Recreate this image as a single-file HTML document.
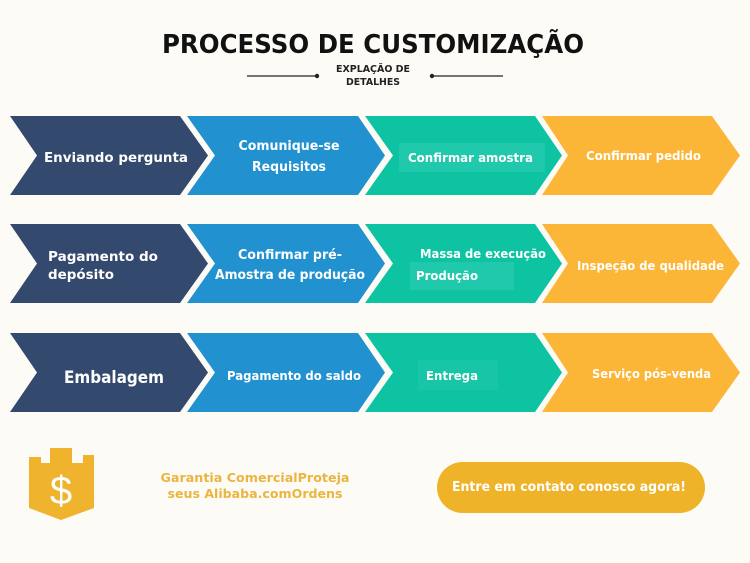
<!DOCTYPE html>
<html><head><meta charset="utf-8"><style>
html,body{margin:0;padding:0;background:#fdfbf6;}
svg{display:block;}
text{font-family:"DejaVu Sans","Liberation Sans",sans-serif;font-weight:bold;}
</style></head><body>
<svg width="750" height="563" viewBox="0 0 750 563" xmlns="http://www.w3.org/2000/svg">
<rect width="750" height="563" fill="#fdfbf6"/>
<text x="373" y="53" font-size="26" text-anchor="middle" fill="#111" textLength="422" lengthAdjust="spacingAndGlyphs">PROCESSO DE CUSTOMIZAÇÃO</text>
<line x1="247" y1="76" x2="317" y2="76" stroke="#222" stroke-width="1.2"/><circle cx="317" cy="76" r="2.2" fill="#222"/>
<line x1="432" y1="76" x2="503" y2="76" stroke="#222" stroke-width="1.2"/><circle cx="432" cy="76" r="2.2" fill="#222"/>
<text x="373" y="72" font-size="9.5" text-anchor="middle" fill="#222" textLength="74" lengthAdjust="spacingAndGlyphs">EXPLAÇÃO DE</text>
<text x="373" y="85" font-size="9.5" text-anchor="middle" fill="#222" textLength="54" lengthAdjust="spacingAndGlyphs">DETALHES</text>

<g id="r1">
<polygon points="10,116 180,116 208,155.5 180,195 10,195 37,155.5" fill="#34496e"/>
<polygon points="187,116 358,116 385,155.5 358,195 187,195 215,155.5" fill="#2191d0"/>
<polygon points="365,116 535,116 562,155.5 535,195 365,195 393,155.5" fill="#0ec3a2"/>
<polygon points="542,116 712,116 740,155.5 712,195 542,195 568,155.5" fill="#fcb637"/>
</g>
<use href="#r1" y="108"/>
<use href="#r1" y="217"/>

<g fill="#fff" font-size="13.5">
<text x="44" y="162" textLength="144" lengthAdjust="spacingAndGlyphs">Enviando pergunta</text>
<text x="289" y="150" text-anchor="middle" font-size="13" textLength="101" lengthAdjust="spacingAndGlyphs">Comunique-se</text>
<text x="289" y="171" text-anchor="middle" font-size="13" textLength="74" lengthAdjust="spacingAndGlyphs">Requisitos</text>
<rect x="399" y="143" width="146" height="29" fill="#20c9ab"/>
<text x="408" y="162" font-size="12.5" textLength="125" lengthAdjust="spacingAndGlyphs">Confirmar amostra</text>
<text x="586" y="160" font-size="12.5" textLength="115" lengthAdjust="spacingAndGlyphs">Confirmar pedido</text>

<text x="48" y="261" textLength="110" lengthAdjust="spacingAndGlyphs">Pagamento do</text>
<text x="48" y="279" textLength="66" lengthAdjust="spacingAndGlyphs">depósito</text>
<text x="290" y="259" text-anchor="middle" font-size="13" textLength="104" lengthAdjust="spacingAndGlyphs">Confirmar pré-</text>
<text x="290" y="279" text-anchor="middle" font-size="13" textLength="150" lengthAdjust="spacingAndGlyphs">Amostra de produção</text>
<rect x="410" y="262" width="104" height="28" fill="#20c9ab"/>
<text x="420" y="258" font-size="12.5" textLength="126" lengthAdjust="spacingAndGlyphs">Massa de execução</text>
<text x="416" y="280" font-size="12.5" textLength="62" lengthAdjust="spacingAndGlyphs">Produção</text>
<text x="577" y="270" font-size="12.5" textLength="147" lengthAdjust="spacingAndGlyphs">Inspeção de qualidade</text>

<text x="64" y="383" font-size="16.5" textLength="100" lengthAdjust="spacingAndGlyphs">Embalagem</text>
<text x="227" y="380" font-size="12.5" textLength="134" lengthAdjust="spacingAndGlyphs">Pagamento do saldo</text>
<rect x="418" y="360" width="80" height="30" fill="#18c6a7"/>
<text x="426" y="380" font-size="12.5" textLength="52" lengthAdjust="spacingAndGlyphs">Entrega</text>
<text x="592" y="378" font-size="12.5" textLength="119" lengthAdjust="spacingAndGlyphs">Serviço pós-venda</text>
</g>

<polygon points="29,457 41,457 41,463 50,463 50,448 72,448 72,463 83,463 83,455 94,455 94,508 61,520 29,508" fill="#efb32e"/>
<text x="61" y="504" font-size="40" text-anchor="middle" fill="#fff" style="font-weight:normal;font-family:'Liberation Sans',sans-serif">$</text>
<text x="255" y="482" font-size="12.5" text-anchor="middle" fill="#ecb440" textLength="189" lengthAdjust="spacingAndGlyphs">Garantia ComercialProteja</text>
<text x="255" y="498" font-size="12.5" text-anchor="middle" fill="#ecb440" textLength="175" lengthAdjust="spacingAndGlyphs">seus Alibaba.comOrdens</text>
<rect x="437" y="462" width="268" height="51" rx="25.5" fill="#efb32a"/>
<text x="569" y="491" font-size="13" text-anchor="middle" fill="#fff" textLength="234" lengthAdjust="spacingAndGlyphs">Entre em contato conosco agora!</text>
</svg>
</body></html>
